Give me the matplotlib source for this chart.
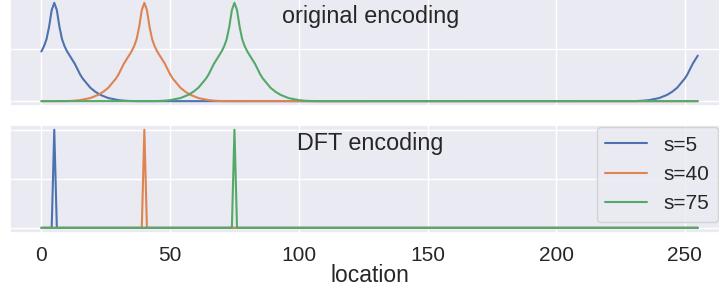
import numpy as np
import matplotlib
matplotlib.use('Agg')
import matplotlib.pyplot as plt
import seaborn as sns

sns.set_theme(style='darkgrid')
plt.rcParams['font.family'] = ['Liberation Sans', 'DejaVu Sans']

n_loc = 256
shifts = [5, 40, 75]
labels = ['s=5', 's=40', 's=75']

# bump profile, value at distance 0, 1, 2, ... from s
kernel = [0.95, 0.88, 0.72, 0.60, 0.53, 0.48, 0.44, 0.40, 0.36, 0.31,
          0.26, 0.22, 0.19, 0.16, 0.13, 0.11, 0.09, 0.075, 0.06, 0.05,
          0.04, 0.03, 0.025, 0.02, 0.015, 0.01, 0.007, 0.005, 0.003, 0.002,
          0.001]
# DFT panel: a single unit spike at s
spike = [1.0]

loc = np.arange(n_loc)

def place(profile, s):
    out = np.zeros(n_loc)
    for d, v in enumerate(profile):
        out[(s + d) % n_loc] = v
        out[(s - d) % n_loc] = v
    return out

fig = plt.figure(figsize=(7.19, 2.98), dpi=100)
ax1 = fig.add_axes([0.0139, 0.644, 1.0024, 0.363])
ax2 = fig.add_axes([0.0139, 0.219, 1.0024, 0.362], sharex=ax1)

for s, lab in zip(shifts, labels):
    ax1.plot(loc, place(kernel, s), lw=1.5, label=lab)
    ax2.plot(loc, place(spike, s), lw=1.5, label=lab)

ax1.set_xlim(-12.2, 267.8)
for ax in (ax1, ax2):
    ax.set_yticks([0, 0.5, 1.0])
    ax.set_yticklabels([])
    ax.tick_params(axis='x', labelsize=15, pad=3.5)
ax1.tick_params(axis='x', labelbottom=False)
ax1.set_ylim(-0.0475, 0.9975)

ax1.text(0.5, 0.77, 'original encoding', transform=ax1.transAxes,
         ha='center', va='baseline', fontsize=16.8)
ax2.text(0.5, 0.77, 'DFT encoding', transform=ax2.transAxes,
         ha='center', va='baseline', fontsize=16.8)
ax2.set_xlabel('location', fontsize=16.5, labelpad=-1)

ax2.legend(loc='upper right', bbox_to_anchor=(0.9985, 0.573),
           bbox_transform=fig.transFigure, borderaxespad=0, fontsize=15)

fig.savefig('out.png', dpi=100)
